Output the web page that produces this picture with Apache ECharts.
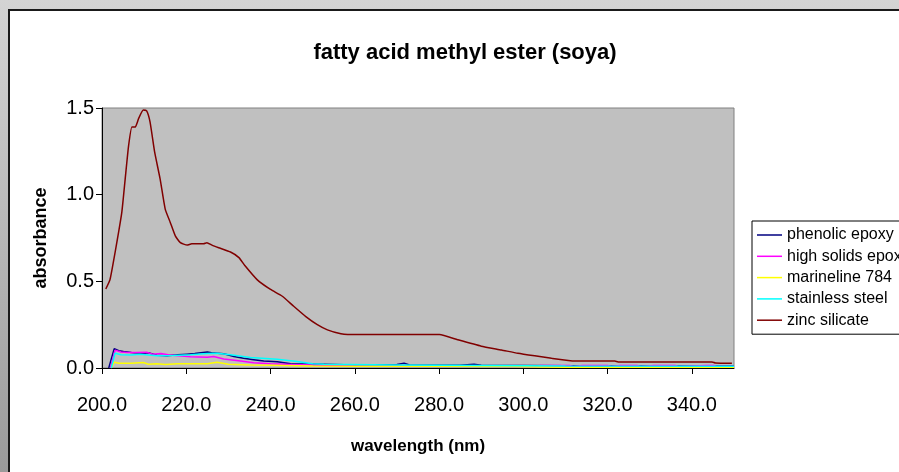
<!DOCTYPE html>
<html>
<head>
<meta charset="utf-8">
<script src="https://cdn.jsdelivr.net/npm/echarts@6/dist/echarts.min.js"></script>
<style>
html,body{margin:0;padding:0;width:899px;height:472px;overflow:hidden;}
#chart{width:899px;height:472px;}
</style>
</head>
<body>
<div id="chart"></div>
<script>
const titleText = 'fatty acid methyl ester (soya)';
const xAxisTitle = 'wavelength (nm)';
const yAxisTitle = 'absorbance';
const xTicks = [200, 220, 240, 260, 280, 300, 320, 340];
const yTicks = [0, 0.5, 1.0, 1.5];
const seriesNames = ['phenolic epoxy', 'high solids epoxy', 'marineline 784', 'stainless steel', 'zinc silicate'];

const phenolicX = [201.6,202.9,204,205.1,207,209.8,211,213,215.4,218,220.2,222,225,226,228.9,231.3,233.6,236,238.4,241.6,244.8,252.7,260,270,271.7,273,285,288.3,290,300,320,350];
const phenolicY = [0,0.112,0.1,0.095,0.09,0.083,0.088,0.074,0.07,0.076,0.08,0.083,0.092,0.088,0.082,0.066,0.056,0.048,0.04,0.036,0.025,0.022,0.018,0.02,0.027,0.018,0.016,0.022,0.016,0.014,0.012,0.012];

const highSolidsX = [202,203.1,204.5,206,208,210.6,212,214,216,221,225,226.5,228.9,232.9,236,240,245,250,260,270,290,303,304,311,312,314,320,321,323,327,328,331,336,337,343.6,345.2,346,350];
const highSolidsY = [0,0.103,0.092,0.089,0.09,0.091,0.08,0.084,0.075,0.065,0.062,0.066,0.052,0.04,0.03,0.025,0.02,0.018,0.012,0.012,0.01,0.008,0.014,0.014,0.008,0.014,0.014,0.008,0.014,0.014,0.008,0.014,0.014,0.008,0.014,0.014,0.008,0.008];

const marinelineX = [202.2,202.9,204,207,209.8,211,213,215,218,225,227.3,230,235,240,250,260,280,297,310,350];
const marinelineY = [0,0.033,0.027,0.028,0.032,0.022,0.025,0.02,0.024,0.025,0.033,0.022,0.018,0.016,0.012,0.01,0.01,0.008,0.004,0.004];

const stainlessX = [202.2,203.1,204.5,207,209,213,217,221,225,227.3,230.5,235.2,241.6,246.3,250,252.7,270,290,310,350];
const stainlessY = [0,0.085,0.077,0.075,0.08,0.07,0.072,0.077,0.083,0.085,0.077,0.06,0.05,0.037,0.025,0.021,0.018,0.015,0.012,0.01];

const zincX = [200.9,201.9,203.1,204.7,205.5,206.3,207.1,207.9,208.7,209.8,210.6,211.4,212.5,213.8,215,216.2,217.4,218.6,220.2,221.3,224.1,224.9,226.1,227.7,230.5,232.5,234,236.8,240,242.8,245.5,248.3,251.1,253.5,256.7,258.3,280.1,284.4,290,294.8,298.7,302.7,306.7,312.2,321.7,322.5,344.8,345.6,349.5];
const zincY = [0.456,0.51,0.666,0.898,1.09,1.28,1.39,1.39,1.44,1.488,1.484,1.42,1.245,1.09,0.917,0.84,0.762,0.723,0.709,0.717,0.717,0.723,0.709,0.694,0.669,0.637,0.588,0.51,0.453,0.414,0.356,0.298,0.25,0.22,0.197,0.193,0.193,0.163,0.126,0.104,0.085,0.07,0.056,0.04,0.04,0.035,0.035,0.029,0.027];

const colors = ['#000080', '#ff00ff', '#ffff00', '#00ffff', '#800000'];
const xs = [phenolicX, highSolidsX, marinelineX, stainlessX, zincX];
const ys = [phenolicY, highSolidsY, marinelineY, stainlessY, zincY];

function pairs(x, y) { return x.map((v, i) => [v, y[i]]); }

const FONT = 'Liberation Sans, Arial, sans-serif';
const chart = echarts.init(document.getElementById('chart'));
chart.setOption({
  backgroundColor: {
    type: 'linear', x: 0, y: 0, x2: 0, y2: 1,
    colorStops: [{offset: 0, color: '#d4d4d4'}, {offset: 1, color: '#9a9a9a'}]
  },
  animation: false,
  graphic: [{
    type: 'rect', z: -10,
    shape: {x: 9, y: 10, width: 900, height: 470},
    style: {fill: '#ffffff', stroke: '#1a1a1a', lineWidth: 2}
  }],
  title: {
    text: titleText, left: 460, top: 37, textAlign: 'center',
    textStyle: {fontFamily: FONT, fontSize: 22, fontWeight: 'bold', color: '#000'}
  },
  legend: {
    orient: 'vertical', left: 752, top: 221,
    backgroundColor: '#ffffff', borderColor: '#000', borderWidth: 1, borderRadius: 0,
    padding: [6, 8, 6, 5], itemWidth: 25, itemHeight: 1.5, itemGap: 5.3,
    icon: 'rect',
    textStyle: {fontFamily: FONT, fontSize: 16, lineHeight: 16, color: '#000'},
    data: seriesNames
  },
  grid: {
    left: 102, top: 108, right: 165, bottom: 104,
    show: true, backgroundColor: '#c0c0c0', borderColor: '#808080', borderWidth: 1
  },
  xAxis: {
    type: 'value', min: 200, max: 350, interval: 20,
    name: xAxisTitle, nameLocation: 'middle', nameGap: 70,
    nameTextStyle: {fontFamily: FONT, fontSize: 17, fontWeight: 'bold', color: '#000'},
    axisLine: {show: true, onZero: false, lineStyle: {color: '#000', width: 1}},
    axisTick: {show: true, length: 6, customValues: xTicks, lineStyle: {color: '#000'}},
    axisLabel: {customValues: xTicks, margin: 27, fontFamily: FONT, fontSize: 20, color: '#000',
      formatter: v => v.toFixed(1)},
    splitLine: {show: false}
  },
  yAxis: {
    type: 'value', min: 0, max: 1.5, interval: 0.5,
    name: yAxisTitle, nameLocation: 'middle', nameGap: 52, nameRotate: 90,
    nameTextStyle: {fontFamily: FONT, fontSize: 18, fontWeight: 'bold', color: '#000'},
    axisLine: {show: true, lineStyle: {color: '#000', width: 1}},
    axisTick: {show: true, length: 6, lineStyle: {color: '#000'}},
    axisLabel: {customValues: yTicks, margin: 8, fontFamily: FONT, fontSize: 20, color: '#000',
      formatter: v => v.toFixed(1)},
    splitLine: {show: false}
  },
  series: seriesNames.map((n, i) => ({
    name: n, type: 'line', data: pairs(xs[i], ys[i]),
    symbol: 'none', smooth: i === 4 ? 0.15 : false, color: colors[i],
    lineStyle: {width: 1.5, color: colors[i]},
    z: i === 4 ? 5 : 2
  }))
});
</script>
</body>
</html>
